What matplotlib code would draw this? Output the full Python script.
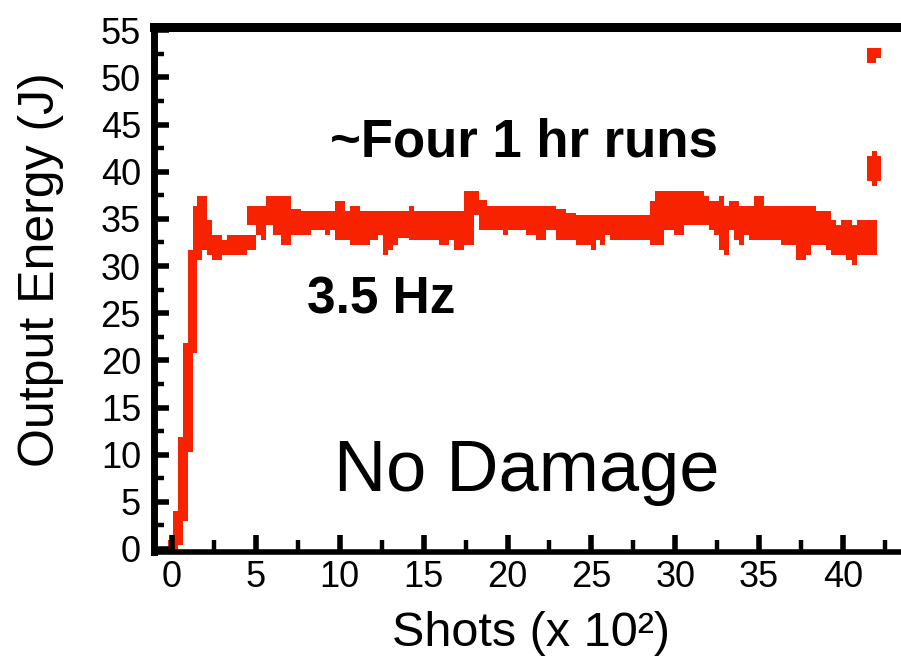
import matplotlib
matplotlib.use('Agg')
import matplotlib.pyplot as plt
from matplotlib.ticker import MultipleLocator

plt.rcParams['font.family'] = ['Liberation Sans', 'DejaVu Sans']

# ---- data: output energy band (min/max) over shot ranges (x 10^2 shots) ----
seg_start = [-0.25, 0.05, 0.35, 0.65, 0.95, 1.25, 1.5, 2.1, 2.4, 3.0, 3.3, 4.5,
             4.45, 5.0, 5.3, 5.6, 6.0, 6.5, 7.1, 7.7, 8.3, 9.1, 9.4, 9.7, 10.3,
             10.6, 11.2, 11.8, 12.3, 12.6, 12.9, 13.2, 13.5, 14.1, 14.4, 15.9,
             16.5, 16.8, 17.4, 18.0, 18.3, 18.8, 19.7, 20.0, 21.1, 21.7, 22.3,
             22.9, 23.5, 24.1, 25.0, 25.3, 25.5, 25.8, 26.1, 28.5, 28.8, 29.3,
             29.9, 30.5, 31.7, 32.0, 32.3, 32.6, 32.9, 33.2, 33.5, 33.8, 34.1,
             34.4, 34.7, 35.3, 36.3, 37.2, 37.8, 38.1, 38.4, 39.0, 39.3, 39.6,
             39.9, 40.2, 40.5, 40.8]
seg_end = [0.35, 0.65, 0.95, 1.25, 1.5, 1.8, 2.1, 2.4, 3.0, 3.3, 4.5, 5.0,
           5.0, 5.3, 5.6, 6.0, 6.5, 7.1, 7.7, 8.3, 9.1, 9.4, 9.7, 10.3, 10.6,
           11.2, 11.8, 12.3, 12.6, 12.9, 13.2, 13.5, 14.1, 14.4, 15.9, 16.5,
           16.8, 17.4, 18.0, 18.3, 18.8, 19.7, 20.0, 21.1, 21.7, 22.3, 22.9,
           23.5, 24.1, 25.0, 25.3, 25.5, 25.8, 26.1, 28.5, 28.8, 29.3, 29.9,
           30.5, 31.7, 32.0, 32.3, 32.6, 32.9, 33.2, 33.5, 33.8, 34.1, 34.4,
           34.7, 35.3, 36.3, 37.2, 37.8, 38.1, 38.4, 39.0, 39.3, 39.6, 39.9,
           40.2, 40.5, 40.8, 42.0]
seg_low = [-0.1, 0.4, 3.0, 10.3, 20.8, 30.6, 31.7, 31.2, 30.6, 31.2, 31.2, 31.7,
           34.4, 33.3, 32.8, 34.4, 33.3, 32.2, 33.3, 33.3, 33.8, 33.3, 33.8, 32.8,
           32.8, 32.2, 32.2, 32.8, 33.3, 31.2, 31.7, 32.2, 33.0, 32.8, 32.8, 32.2,
           32.8, 31.7, 32.2, 35.4, 33.8, 33.8, 33.3, 33.8, 33.3, 32.8, 33.8, 32.8,
           32.8, 32.2, 31.7, 32.8, 32.2, 33.3, 32.8, 32.2, 32.2, 33.8, 33.3, 34.4,
           34.4, 33.8, 33.3, 31.7, 31.2, 33.8, 32.8, 32.2, 33.3, 32.8, 32.8, 32.8,
           32.2, 30.6, 31.2, 32.2, 32.2, 31.7, 31.2, 31.2, 31.2, 30.6, 30.1, 31.2]
seg_high = [1.0, 4.0, 11.9, 21.8, 31.7, 36.4, 37.4, 34.9, 33.3, 32.8, 33.3, 33.3,
            36.4, 36.4, 36.4, 37.4, 37.4, 37.4, 36.0, 35.8, 35.8, 35.8, 35.8, 36.9,
            35.8, 36.4, 35.8, 35.8, 35.8, 35.8, 35.8, 35.8, 35.8, 36.4, 35.8, 35.8,
            35.8, 35.8, 38.0, 38.0, 37.0, 36.4, 36.4, 36.4, 36.4, 36.4, 36.4, 36.1,
            35.6, 35.4, 35.4, 35.4, 35.4, 35.4, 35.4, 36.9, 38.0, 38.0, 38.0, 38.0,
            37.4, 36.9, 36.9, 37.4, 36.4, 36.9, 36.9, 36.4, 36.4, 36.4, 37.4, 36.4,
            36.4, 36.4, 36.4, 36.4, 35.8, 35.8, 34.9, 34.4, 34.9, 34.9, 34.4, 34.9]

# isolated high-energy shots at the end
out_start = [41.4, 41.4, 41.4, 41.7]
out_end = [42.25, 41.95, 42.25, 42.0]
out_low = [52.1, 51.5, 39.0, 38.5]
out_high = [53.1, 52.2, 41.7, 42.2]

x_ticks = [0, 5, 10, 15, 20, 25, 30, 35, 40]
y_ticks = [0, 5, 10, 15, 20, 25, 30, 35, 40, 45, 50, 55]

RED = '#F72300'

fig = plt.figure(figsize=(9.01, 6.60), dpi=100)
ax = fig.add_axes([153.5 / 901, 108 / 660, (901 - 153.5) / 901, 525 / 660])

ax.bar(seg_start, [h - l for h, l in zip(seg_high, seg_low)], bottom=seg_low,
       width=[e - s for e, s in zip(seg_end, seg_start)], align='edge',
       color=RED, linewidth=0)
ax.bar(out_start, [h - l for h, l in zip(out_high, out_low)], bottom=out_low,
       width=[e - s for e, s in zip(out_end, out_start)], align='edge',
       color=RED, linewidth=0)

ax.set_xlim(-1.1, 43.45)
ax.set_ylim(-0.32, 55.35)
ax.set_xticks(x_ticks)
ax.set_yticks(y_ticks)
ax.xaxis.set_minor_locator(MultipleLocator(2.5))
ax.yaxis.set_minor_locator(MultipleLocator(2.5))

ax.spines['right'].set_visible(False)
ax.spines['top'].set_linewidth(6.5)
ax.spines['left'].set_linewidth(5)
ax.spines['bottom'].set_linewidth(4)

ax.tick_params(axis='x', which='major', direction='in', length=12.5, width=4,
               labelsize=26, pad=5.5, top=False)
ax.tick_params(axis='x', which='minor', direction='in', length=8.5, width=3.2, top=False)
ax.tick_params(axis='y', which='major', direction='in', length=11, width=4,
               labelsize=26, pad=9, right=False)
ax.tick_params(axis='y', which='minor', direction='in', length=7.2, width=3.2, right=False)

ax.set_xlabel('Shots (x 10²)', fontsize=35)
ax.set_ylabel('Output Energy (J)', fontsize=36)
ax.xaxis.set_label_coords(0.505, -0.112)
ax.yaxis.set_label_coords(-0.120, 0.537)

ax.text(0.236, 0.754, '~Four 1 hr runs', transform=ax.transAxes, fontsize=38,
        fontweight='bold', ha='left', va='baseline')
ax.text(0.205, 0.455, '3.5 Hz', transform=ax.transAxes, fontsize=37,
        fontweight='bold', ha='left', va='baseline')
ax.text(0.241, 0.116, 'No Damage', transform=ax.transAxes, fontsize=52,
        ha='left', va='baseline')

fig.savefig('out.png', dpi=100)
